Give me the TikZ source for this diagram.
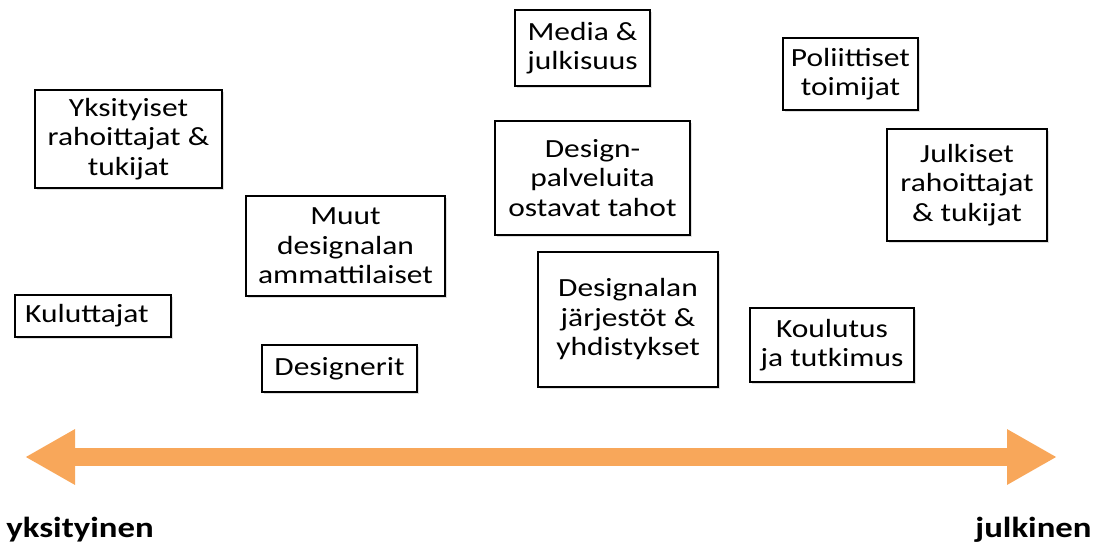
\documentclass[tikz,border=0pt]{standalone}
\usepackage{fontspec}
\setmainfont{Carlito}[FakeStretch=1.2]
\usetikzlibrary{arrows.meta,shadows}
\definecolor{akselioranssi}{RGB}{248,167,90}
\begin{document}
\begin{tikzpicture}[x=0.5pt,y=-0.5pt,
  box/.style={draw=black,fill=white,line width=1pt,align=center,inner sep=0pt,
    font=\fontsize{13.1}{14.75}\selectfont,
    drop shadow={opacity=0.25,shadow xshift=0.8pt,shadow yshift=-0.8pt}},
  koko/.style 2 args={minimum width=#1*0.5pt,minimum height=#2*0.5pt},
  paate/.style={font=\bfseries\fontsize{14.5}{16}\selectfont,inner sep=0pt}]
\useasboundingbox (0,0) rectangle (1099,547);
\node[box,koko={135}{76}] (media) at (582.5,48) {Media \&\\julkisuus};
\node[box,koko={135}{72}] (poliit) at (850.5,74) {Poliittiset\\toimijat};
\node[box,koko={187}{98}] (yksrah) at (128.5,139) {Yksityiset\\rahoittajat \&\\tukijat};
\node[box,koko={195}{114}] (ostajat) at (592.5,178) {Design-\\palveluita\\ostavat tahot};
\node[box,koko={160}{112}] (julkrah) at (967,185) {Julkiset\\rahoittajat\\\& tukijat};
\node[box,koko={199}{100}] (muut) at (345.5,246) {Muut\\designalan\\ammattilaiset};
\node[box,koko={156}{42}] (kulut) at (93,316) {Kuluttajat\hspace{6pt}};
\node[box,koko={180}{135}] (jarjest) at (628,319.5) {Designalan\\järjestöt \&\\yhdistykset};
\node[box,koko={164}{74}] (koulutus) at (832,345) {Koulutus\\ja tutkimus};
\node[box,koko={155}{47}] (designerit) at (339.5,368.5) {Designerit};
% akseli yksityisestä julkiseen
\coordinate (vasen) at (25,457);
\coordinate (oikea) at (1057,457);
\draw[akselioranssi,line width=9pt,
  {Triangle[length=25pt,width=26pt]}-{Triangle[length=25pt,width=26pt]}] (vasen) -- (oikea);
\node[paate,anchor=west] (yksit) at (6,530) {yksityinen};
\node[paate,anchor=east] (julk) at (1092,530) {julkinen};
\end{tikzpicture}
\end{document}
